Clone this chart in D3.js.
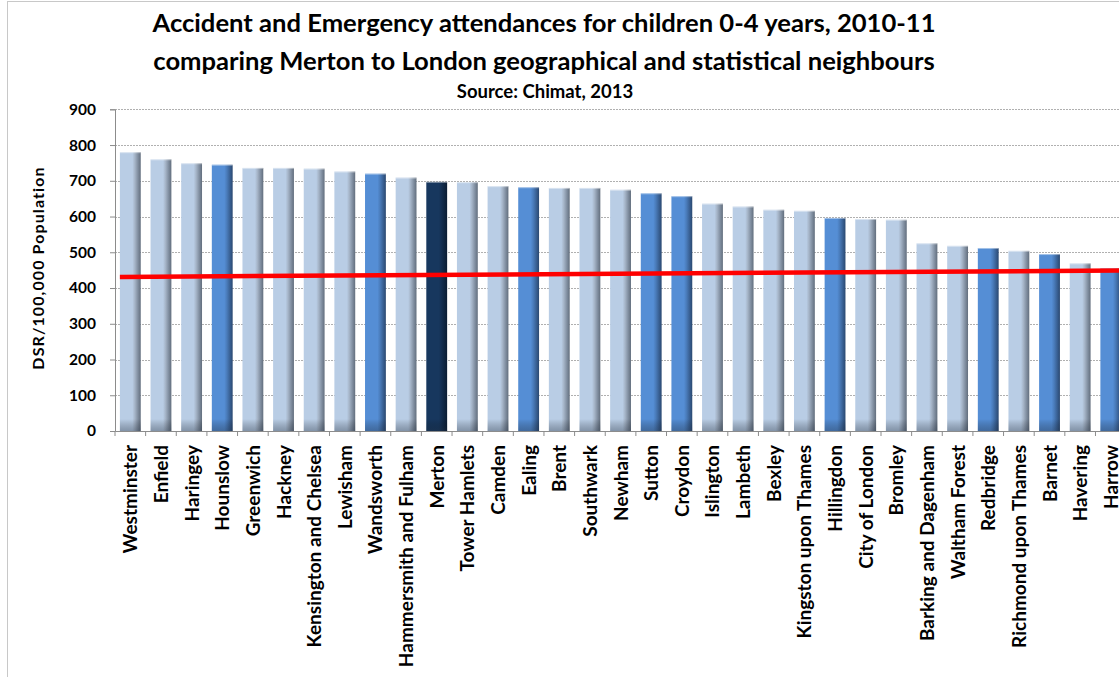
<!DOCTYPE html>
<html>
<head>
<meta charset="utf-8">
<script src="https://cdn.jsdelivr.net/npm/d3@7"></script>
<style>
  body { margin: 0; background: #fff; }
  svg { display: block; font-family: Lato, 'Open Sans', sans-serif; }
</style>
</head>
<body>
<svg id="chart" width="1119" height="677"></svg>
<script>
// Boroughs, in chart order
const boroughs = [
  'Westminster', 'Enfield', 'Haringey', 'Hounslow', 'Greenwich', 'Hackney',
  'Kensington and Chelsea', 'Lewisham', 'Wandsworth', 'Hammersmith and Fulham',
  'Merton', 'Tower Hamlets', 'Camden', 'Ealing', 'Brent', 'Southwark', 'Newham',
  'Sutton', 'Croydon', 'Islington', 'Lambeth', 'Bexley', 'Kingston upon Thames',
  'Hillingdon', 'City of London', 'Bromley', 'Barking and Dagenham',
  'Waltham Forest', 'Redbridge', 'Richmond upon Thames', 'Barnet', 'Havering',
  'Harrow'
];

// DSR per 100,000 population
const rates = [
  780, 760, 749, 745, 736, 736,
  734, 726, 720, 709,
  697, 696, 685, 682, 680, 680, 675,
  665, 657, 636, 628, 619, 616,
  596, 593, 591, 525,
  518, 512, 504, 495, 469,
  455
];

// Which boroughs are statistical neighbours (mid blue) and which is Merton
const statNeighbours = [
  'Hounslow', 'Wandsworth', 'Ealing', 'Sutton', 'Croydon', 'Hillingdon',
  'Redbridge', 'Barnet', 'Harrow'
];
const focusBorough = 'Merton';

// London comparison line: value at the left and right end of the bars
const londonLine = [431, 449];

const yTicks = [0, 100, 200, 300, 400, 500, 600, 700, 800, 900];

const titleLines = [
  'Accident and Emergency attendances for children 0-4 years, 2010-11',
  'comparing Merton to London geographical and statistical neighbours'
];
const sourceText = 'Source: Chimat, 2013';
const yLabel = 'DSR/100,000 Population';

const data = boroughs.map((name, i) => ({
  name,
  value: rates[i],
  group: name === focusBorough ? 'focus' : (statNeighbours.includes(name) ? 'stat' : 'geo')
}));

const svg = d3.select('#chart');

// Plot area (right side runs off the picture like the original)
const plot = { left: 115, top: 109.3, bottom: 431 };
const step = 30.64;

const x = d3.scaleBand()
  .domain(boroughs)
  .range([plot.left, plot.left + step * boroughs.length])
  .paddingInner(0.32)
  .paddingOuter(0.16);

const y = d3.scaleLinear()
  .domain([0, 900])
  .range([plot.bottom, plot.top]);

// --- gradients for the cylinder-like bars ---
const defs = svg.append('defs');
const palettes = {
  geo:   ['#B9CDE5', '#B9CDE5', '#A5B4C7', '#8290A2', '#626E7D'],
  stat:  ['#558ED5', '#558ED5', '#4A7CBB', '#3A6296', '#2A4870'],
  focus: ['#17375E', '#17375E', '#142F52', '#0F2642', '#0B1C33']
};
const offsets = [0, 0.6, 0.72, 0.86, 1];
Object.entries(palettes).forEach(([key, cols]) => {
  const g = defs.append('linearGradient')
    .attr('id', 'grad-' + key)
    .attr('x1', 0).attr('x2', 1).attr('y1', 0).attr('y2', 0);
  cols.forEach((c, i) => g.append('stop').attr('offset', offsets[i]).attr('stop-color', c));
});
const shade = defs.append('linearGradient')
  .attr('id', 'bottom-shade')
  .attr('x1', 0).attr('x2', 0).attr('y1', 0).attr('y2', 1);
shade.append('stop').attr('offset', 0).attr('stop-color', '#000').attr('stop-opacity', 0);
shade.append('stop').attr('offset', 1).attr('stop-color', '#1c2838').attr('stop-opacity', 0.35);

// outer frame
svg.append('rect')
  .attr('x', 7.5).attr('y', 1.5)
  .attr('width', 1200).attr('height', 700)
  .attr('fill', 'none')
  .attr('stroke', '#c8c8c8')
  .attr('stroke-width', 1);

// --- titles ---
svg.selectAll('text.title')
  .data(titleLines)
  .enter()
  .append('text')
  .attr('class', 'title')
  .attr('x', 544)
  .attr('y', (d, i) => 32 + i * 38)
  .attr('text-anchor', 'middle')
  .attr('font-size', 25.6)
  .attr('font-weight', 'bold')
  .attr('fill', '#000')
  .text(d => d);

svg.append('text')
  .attr('x', 545)
  .attr('y', 98)
  .attr('text-anchor', 'middle')
  .attr('font-size', 18.5)
  .attr('font-weight', 'bold')
  .text(sourceText);

// --- gridlines ---
svg.append('g')
  .selectAll('line')
  .data(yTicks.filter(d => d > 0))
  .enter()
  .append('line')
  .attr('x1', plot.left)
  .attr('x2', 1119)
  .attr('y1', d => Math.round(y(d)) + 0.5)
  .attr('y2', d => Math.round(y(d)) + 0.5)
  .attr('stroke', '#b0b0b0')
  .attr('stroke-width', 1.2)
  .attr('stroke-dasharray', '2,1');

// --- y axis ---
const yAxis = svg.append('g')
  .attr('transform', `translate(${plot.left},0)`)
  .call(d3.axisLeft(y).tickValues(yTicks).tickSize(5).tickPadding(14));
yAxis.select('.domain').attr('stroke', '#8c8c8c');
yAxis.selectAll('.tick line').attr('stroke', '#8c8c8c');
yAxis.selectAll('.tick text')
  .attr('font-size', 15.5)
  .attr('font-weight', 'bold')
  .attr('font-family', 'Lato, sans-serif')
  .attr('fill', '#000');

svg.append('text')
  .attr('transform', `translate(44,268) rotate(-90)`)
  .attr('text-anchor', 'middle')
  .attr('font-size', 16)
  .attr('font-weight', 'bold')
  .attr('letter-spacing', 1.1)
  .text(yLabel);

// --- bars ---
const bars = svg.append('g')
  .selectAll('g.bar')
  .data(data)
  .enter()
  .append('g')
  .attr('class', 'bar');

bars.append('rect')
  .attr('x', d => x(d.name))
  .attr('y', d => y(d.value))
  .attr('width', x.bandwidth())
  .attr('height', d => y(0) - y(d.value))
  .attr('fill', d => `url(#grad-${d.group})`);

// darker band at the foot of each bar
bars.append('rect')
  .attr('x', d => x(d.name))
  .attr('y', y(0) - 12)
  .attr('width', x.bandwidth())
  .attr('height', 12)
  .attr('fill', 'url(#bottom-shade)');

// light rim on top of each bar
bars.append('line')
  .attr('x1', d => x(d.name))
  .attr('x2', d => x(d.name) + x.bandwidth())
  .attr('y1', d => y(d.value) + 0.5)
  .attr('y2', d => y(d.value) + 0.5)
  .attr('stroke', '#ffffff')
  .attr('stroke-opacity', 0.45);

// --- x axis ---
const xAxis = svg.append('g')
  .attr('transform', `translate(0,${plot.bottom})`)
  .call(d3.axisBottom(x).tickSize(0).tickPadding(0));
xAxis.select('.domain').attr('stroke', '#8c8c8c');
xAxis.selectAll('.tick text')
  .attr('font-size', 19)
  .attr('font-weight', 'bold')
  .attr('font-family', 'Lato, sans-serif')
  .attr('fill', '#000')
  .attr('text-anchor', 'end')
  .attr('transform', 'translate(7,14) rotate(-90)')
  .attr('dy', 0)
  .attr('y', 0);

// tick marks between categories
svg.append('g')
  .selectAll('line')
  .data(d3.range(boroughs.length + 1))
  .enter()
  .append('line')
  .attr('x1', i => x.range()[0] + i * x.step())
  .attr('x2', i => x.range()[0] + i * x.step())
  .attr('y1', plot.bottom)
  .attr('y2', plot.bottom + 5)
  .attr('stroke', '#8c8c8c');

// --- London comparison line ---
const first = boroughs[0], last = boroughs[boroughs.length - 1];
const lineEnds = [
  { px: x(first), v: londonLine[0] },
  { px: x(last) + x.bandwidth(), v: londonLine[1] }
];
svg.append('path')
  .datum(lineEnds)
  .attr('d', d3.line().x(d => d.px).y(d => y(d.v)))
  .attr('fill', 'none')
  .attr('stroke', '#ff0000')
  .attr('stroke-width', 4.5);
</script>
</body>
</html>
